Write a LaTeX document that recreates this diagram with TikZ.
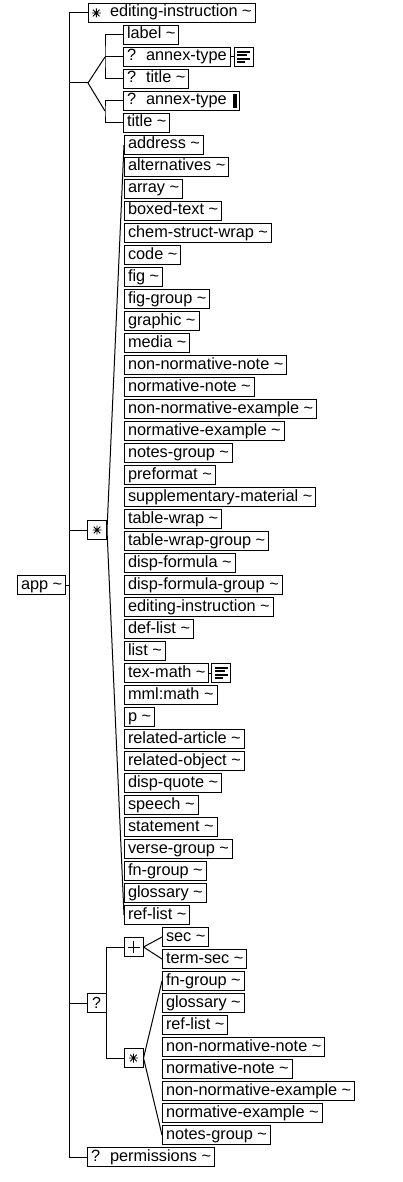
\documentclass[tikz,border=0pt]{standalone}
\usepackage{fontspec}
\setmainfont{Liberation Sans}
\tikzset{
  el/.style={draw, line width=1pt, anchor=west, minimum height=19pt, inner xsep=3.5pt, inner ysep=0pt,
    font=\fontsize{16.3}{19}\selectfont, text height=12pt, text depth=4pt},
  mult/.style={draw, line width=1pt, minimum width=19pt, minimum height=19pt, inner sep=0pt,
    font=\fontsize{16}{19}\selectfont},
  iconbox/.style={draw, line width=1pt, anchor=west, minimum width=19pt, minimum height=19pt, inner sep=0pt},
  ln/.style={line width=1pt},
  starsym/.pic={\draw[line width=0.9pt] (-4.5,0)--(4.5,0) (0,-4.5)--(0,4.5) (-3.3,-3.3)--(3.3,3.3) (-3.3,3.3)--(3.3,-3.3);},
  plussym/.pic={\draw[line width=1pt] (-6,0)--(6,0) (0,-6)--(0,6);},
  linesicon/.pic={\draw[line width=2pt] (-6.5,-5)--(6.5,-5) (-6.5,-1.7)--(3.5,-1.7) (-6.5,1.7)--(6.5,1.7) (-6.5,5)--(1.5,5);}
}
\begin{document}
\begin{tikzpicture}[x=1pt,y=-1pt]
\fill[white] (0,0) rectangle (403,1182);
\useasboundingbox (0,0) rectangle (403,1182);
% trunk
\coordinate (ttop) at (69,13);
\coordinate (tbot) at (69,1157);
\draw[ln] (ttop) -- (tbot);
% app
\node[el] (app) at (17,585) {app \textasciitilde};
\draw[ln] (app.east) -- (app.east -| ttop);
% top editing-instruction
\node[el] (ei) at (88,13) {\kern18pt editing-instruction \textasciitilde};
\pic at (96.3,13) {starsym};
\draw[ln] (ttop) -- (ei.west);
% choice group
\coordinate (g1) at (88,83);
\coordinate (g1a) at (105,57);
\coordinate (g1b) at (105,111);
\draw[ln] (g1 -| ttop) -- (g1);
\draw[ln] (g1) -- (g1a);
\draw[ln] (g1) -- (g1b);
\node[el] (lab) at (123,35) {label \textasciitilde};
\node[el] (an1) at (123,57) {?\kern10pt annex-type};
\node[el] (ti1) at (123,79) {?\kern10pt title \textasciitilde};
\node[el] (an2) at (123,101) {?\kern10pt annex-type\kern9pt};
\node[el] (ti2) at (123,123) {title \textasciitilde};
\draw[ln] (lab.west) -| (g1a) |- (ti1.west);
\draw[ln] (g1a) -- (an1.west);
\draw[ln] (an2.west) -| (g1b) |- (ti2.west);
\node[iconbox] (ic1) at ([xshift=3pt]an1.east) {};
\draw[ln] (an1.east) -- (ic1.west);
\pic at (ic1.center) {linesicon};
\fill ([xshift=-7pt,yshift=7pt]an2.east) rectangle ([xshift=-3pt,yshift=-7pt]an2.east);
% main sequence star
\node[mult] (m1) at (97,530) {};
\pic at (m1.center) {starsym};
\draw[ln] (m1.west -| ttop) -- (m1.west);
\foreach \i/\t in {1/address, 2/alternatives, 3/array, 4/boxed-text, 5/chem-struct-wrap, 6/code, 7/fig, 8/fig-group, 9/graphic, 10/media, 11/non-normative-note, 12/normative-note, 13/non-normative-example, 14/normative-example, 15/notes-group, 16/preformat, 17/supplementary-material, 18/table-wrap, 19/table-wrap-group, 20/disp-formula, 21/disp-formula-group, 22/editing-instruction, 23/def-list, 24/list, 25/tex-math, 26/mml:math, 27/p, 28/related-article, 29/related-object, 30/disp-quote, 31/speech, 32/statement, 33/verse-group, 34/fn-group, 35/glossary, 36/ref-list}{
  \node[el] (c\i) at (124,{145+22*(\i-1)}) {{\t} \textasciitilde};
}
\draw[ln] (c1.west) -- (m1.east) -- (c36.west);
\node[iconbox] (ic2) at ([xshift=2pt]c25.east) {};
\draw[ln] (c25.east) -- (ic2.west);
\pic at (ic2.center) {linesicon};
% lower optional group
\node[mult] (q2) at (96.5,1003) {?};
\draw[ln] (q2.west -| ttop) -- (q2.west);
\node[mult] (pl) at (133.5,947) {};
\pic at (pl.center) {plussym};
\node[mult] (s2) at (133.5,1058) {};
\pic at (s2.center) {starsym};
\draw[ln] (pl.west) -| (q2.east) |- (s2.west);
\node[el] (sec) at (162,937) {sec \textasciitilde};
\node[el] (tsec) at (162,959) {term-sec \textasciitilde};
\draw[ln] (sec.west) -- (pl.east) -- (tsec.west);
\foreach \i/\t in {1/fn-group, 2/glossary, 3/ref-list, 4/non-normative-note, 5/normative-note, 6/non-normative-example, 7/normative-example, 8/notes-group}{
  \node[el] (d\i) at (162,{981+22*(\i-1)}) {{\t} \textasciitilde};
}
\draw[ln] (d1.west) -- (s2.east) -- (d8.west);
% permissions
\node[el] (perm) at (87,1157) {?\kern10pt permissions \textasciitilde};
\draw[ln] (tbot) -- (perm.west);
\end{tikzpicture}
\end{document}
